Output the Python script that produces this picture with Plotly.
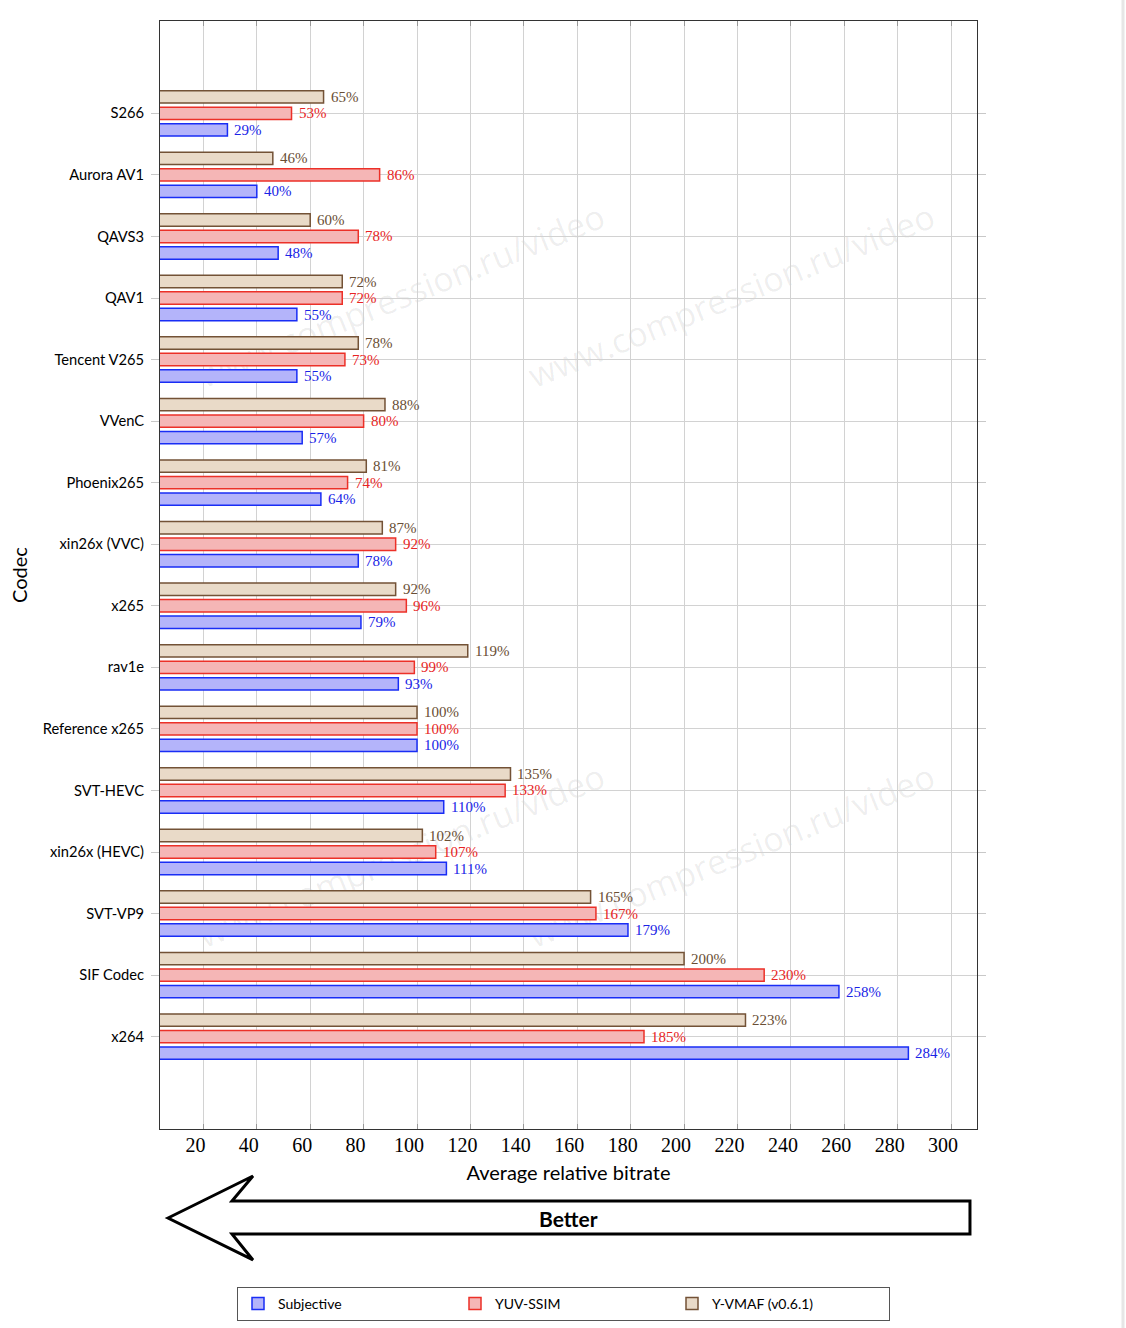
import plotly.graph_objects as go

codecs = ["S266", "Aurora AV1", "QAVS3", "QAV1", "Tencent V265", "VVenC",
          "Phoenix265", "xin26x (VVC)", "x265", "rav1e", "Reference x265",
          "SVT-HEVC", "xin26x (HEVC)", "SVT-VP9", "SIF Codec", "x264"]
subjective = [29, 40, 48, 55, 55, 57, 64, 78, 79, 93, 100, 110, 111, 179, 258, 284]
yuv_ssim = [53, 86, 78, 72, 73, 80, 74, 92, 96, 99, 100, 133, 107, 167, 230, 185]
y_vmaf = [65, 46, 60, 72, 78, 88, 81, 87, 92, 119, 100, 135, 102, 165, 200, 223]
x_ticks = [20, 40, 60, 80, 100, 120, 140, 160, 180, 200, 220, 240, 260, 280, 300]

W, H = 1126, 1333
def Y(y): return y * H / 1328.0
L, R = 160, 977
T, B = Y(21), Y(1129)
def px(x): return (x - L) / (R - L)
def py(y): return (B - Y(y)) / (B - T)

series = [
    ("Y-VMAF (v0.6.1)", y_vmaf, "rgb(233,218,200)", "rgb(115,82,54)", "rgb(105,78,52)", -0.268),
    ("YUV-SSIM", yuv_ssim, "rgb(245,182,182)", "rgb(236,48,40)", "rgb(232,36,36)", 0.0),
    ("Subjective", subjective, "rgb(180,180,250)", "rgb(25,45,245)", "rgb(25,35,230)", 0.268),
]

fig = go.Figure()
annotations = []
for name, vals, fill, line, tcol, off in series:
    fig.add_trace(go.Bar(
        name=name, y=codecs, x=vals, orientation="h",
        marker=dict(color=fill, line=dict(color=line, width=1.5)),
    ))
    for i, v in enumerate(vals):
        annotations.append(dict(
            x=v, y=i + off, xref="x", yref="y", text=f"{v}%", showarrow=False,
            xanchor="left", yanchor="middle", xshift=5,
            font=dict(family="Liberation Serif", size=15, color=tcol)))

# "Better" arrow
arrow_pts = [(168, 1218), (253, 1176), (232, 1201), (970, 1201), (970, 1234),
             (232, 1234), (253, 1260)]
path = "M " + " L ".join(f"{px(a):.4f},{py(b):.4f}" for a, b in arrow_pts) + " Z"
shapes = [dict(type="path", path=path, xref="paper", yref="paper",
               line=dict(color="black", width=3), fillcolor="white", layer="above")]
annotations.append(dict(x=px(568), y=py(1218), xref="paper", yref="paper",
                        xanchor="center", yanchor="middle",
                        text="<b>Better</b>", showarrow=False,
                        font=dict(family="Lato", size=21, color="black")))

# watermarks
for cx, cy in [(402, 297), (732, 297), (402, 857), (732, 857)]:
    shapes.append(dict(type="rect", xref="paper", yref="paper",
                       x0=px(cx - 5), x1=px(cx + 5), y0=py(cy + 5), y1=py(cy - 5),
                       line=dict(width=0), fillcolor="rgba(0,0,0,0)", layer="below",
                       label=dict(text="www.compression.ru/video", textangle=-22,
                                  textposition="middle center",
                                  font=dict(family="Open Sans", size=34,
                                            color="rgba(0,0,0,0.07)"))))

# screenshot edge line
shapes.append(dict(type="line", xref="paper", yref="paper", x0=px(1123), x1=px(1123),
                   y0=py(0), y1=py(1328), line=dict(color="#e6e6e6", width=3)))

fig.update_layout(
    width=W, height=H,
    margin=dict(l=L, r=W - R, t=T, b=H - B),
    paper_bgcolor="white", plot_bgcolor="white",
    barmode="group", bargap=0.196, bargroupgap=0.25,
    showlegend=True,
    legend=dict(orientation="h", x=px(237), y=py(1287), xanchor="left", yanchor="top",
                traceorder="reversed", bordercolor="#555", borderwidth=1,
                font=dict(family="Lato", size=14, color="black"),
                entrywidth=172, entrywidthmode="pixels"),
    annotations=annotations, shapes=shapes,
    font=dict(family="Lato", color="black"),
)
fig.update_xaxes(
    range=[3.75, 309.7], tickvals=x_ticks, ticks="inside", ticklen=5, tickcolor="#999",
    showgrid=True, gridcolor="#d2d2d2", gridwidth=1, zeroline=False,
    showline=True, linecolor="#333", linewidth=1, mirror="ticks",
    tickfont=dict(family="Liberation Serif", size=20, color="black"),
    ticklabelshift=-8, ticklabelstandoff=-2, automargin=False,
    title=dict(text="Average relative bitrate", font=dict(family="Lato", size=20), standoff=10),
)
fig.update_yaxes(
    type="category", categoryorder="array", categoryarray=codecs,
    range=[len(codecs) - 1 + 1.5, -1.5], ticks="outside", ticklen=8, tickcolor="#c8c8c8",
    showgrid=True, gridcolor="#d2d2d2", gridwidth=1, zeroline=False,
    showline=True, linecolor="#333", linewidth=1, mirror="ticks",
    tickfont=dict(family="Lato", size=14.7, color="black"), automargin=False,
    ticklabelstandoff=4,
    title=dict(text="Codec", font=dict(family="Lato", size=20), standoff=9),
)

fig.write_html(
    "out.html",
    config={"displayModeBar": False},
    post_script=("document.documentElement.style.margin='0';"
                 "document.body.style.margin='0';"
                 "document.body.style.lineHeight='0';"
                 "document.documentElement.style.overflow='hidden';"
                 "document.body.style.overflow='hidden';"),
)
